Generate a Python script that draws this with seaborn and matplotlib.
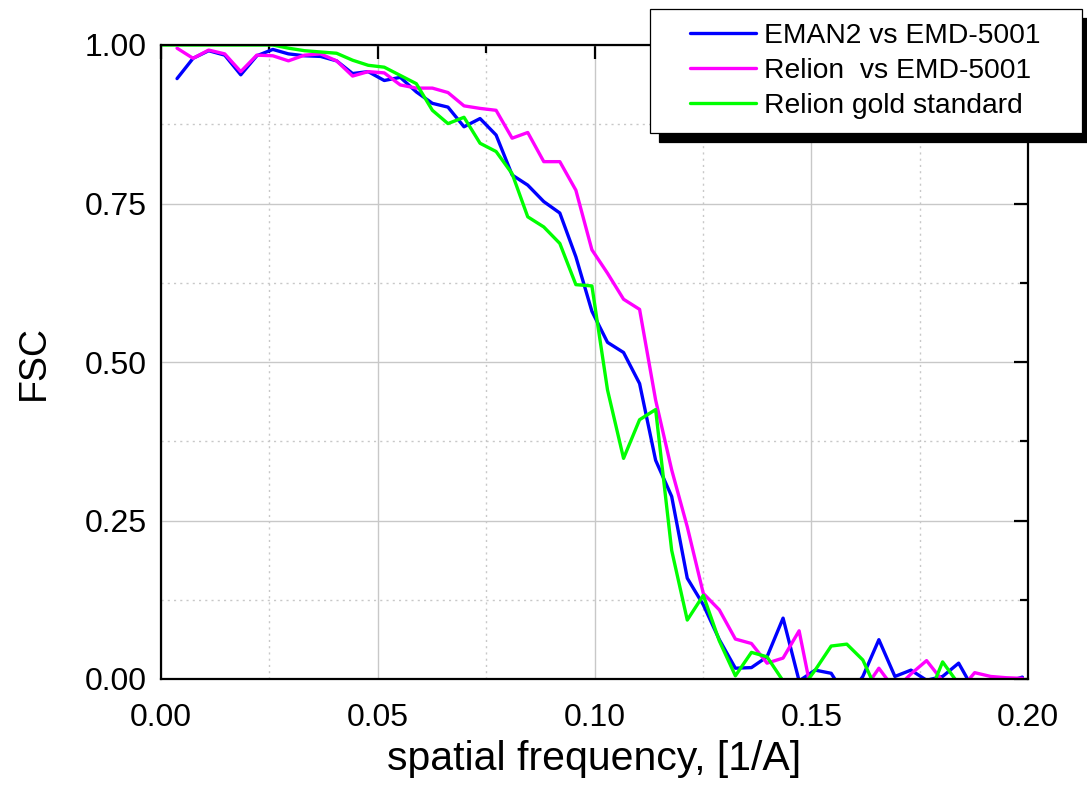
import numpy as np
import pandas as pd
import matplotlib
matplotlib.use("Agg")
import matplotlib.pyplot as plt
from matplotlib.lines import Line2D
from matplotlib.legend_handler import HandlerLine2D
from matplotlib.ticker import MultipleLocator, FormatStrFormatter
import seaborn as sns

# Fourier shell correlation curves
freq = [0.0000, 0.0037, 0.0074, 0.0110, 0.0147, 0.0184, 0.0221, 0.0258, 0.0294, 0.0331,
        0.0368, 0.0405, 0.0442, 0.0478, 0.0515, 0.0552, 0.0589, 0.0626, 0.0662, 0.0699,
        0.0736, 0.0773, 0.0810, 0.0846, 0.0883, 0.0920, 0.0957, 0.0994, 0.1030, 0.1067,
        0.1104, 0.1141, 0.1178, 0.1214, 0.1251, 0.1288, 0.1325, 0.1362, 0.1398, 0.1435,
        0.1472, 0.1509, 0.1546, 0.1582, 0.1619, 0.1656, 0.1693, 0.1730, 0.1766, 0.1803,
        0.1840, 0.1877, 0.1914, 0.1950, 0.1987]

fsc_eman2 = [np.nan, 0.947, 0.979, 0.991, 0.984, 0.953, 0.983, 0.993, 0.986, 0.983,
             0.982, 0.975, 0.955, 0.958, 0.944, 0.949, 0.926, 0.908, 0.902, 0.871,
             0.884, 0.858, 0.795, 0.779, 0.753, 0.735, 0.666, 0.580, 0.531, 0.515,
             0.466, 0.345, 0.288, 0.159, 0.117, 0.062, 0.017, 0.018, 0.035, 0.096,
             -0.003, 0.014, 0.009, -0.030, 0.004, 0.062, 0.004, 0.014, -0.002, 0.004,
             0.025, -0.020, -0.015, -0.005, 0.003]

fsc_relion = [np.nan, 0.995, 0.979, 0.992, 0.986, 0.958, 0.984, 0.983, 0.975, 0.984,
              0.986, 0.975, 0.951, 0.958, 0.956, 0.937, 0.932, 0.932, 0.925, 0.904,
              0.900, 0.897, 0.853, 0.862, 0.816, 0.816, 0.771, 0.677, 0.640, 0.599,
              0.583, 0.440, 0.330, 0.240, 0.135, 0.109, 0.063, 0.056, 0.025, 0.033,
              0.076, -0.050, -0.030, -0.030, -0.020, 0.017, -0.017, 0.008, 0.029, -0.003,
              -0.020, 0.010, 0.004, 0.002, 0.001]

fsc_gold = [1.000, 1.000, 1.000, 1.000, 1.000, 1.000, 1.000, 1.000, 0.995, 0.991,
            0.989, 0.987, 0.976, 0.968, 0.965, 0.952, 0.939, 0.897, 0.876, 0.886,
            0.845, 0.832, 0.797, 0.729, 0.713, 0.687, 0.622, 0.620, 0.456, 0.348,
            0.409, 0.425, 0.203, 0.093, 0.132, 0.060, 0.005, 0.042, 0.035, -0.003,
            -0.020, 0.014, 0.052, 0.055, 0.030, -0.025, -0.030, -0.020, -0.035, 0.027,
            -0.008, -0.020, -0.020, -0.020, -0.020]

series_names = ["EMAN2 vs EMD-5001", "Relion  vs EMD-5001", "Relion gold standard"]
series_colors = ["#0000ff", "#ff00ff", "#00ff00"]

x_ticks = [0.00, 0.05, 0.10, 0.15, 0.20]
y_ticks = [0.00, 0.25, 0.50, 0.75, 1.00]

df = pd.DataFrame({
    "freq": freq * 3,
    "fsc": fsc_eman2 + fsc_relion + fsc_gold,
    "series": [series_names[0]] * len(freq) + [series_names[1]] * len(freq)
              + [series_names[2]] * len(freq),
}).dropna()

sns.set_theme(style="white")
plt.rcParams["font.family"] = ["Liberation Sans", "DejaVu Sans"]
plt.rcParams.update({"text.color": "black", "axes.labelcolor": "black",
                     "xtick.color": "black", "ytick.color": "black"})

fig, ax = plt.subplots(figsize=(10.87, 7.90), dpi=100)
fig.subplots_adjust(left=161 / 1087, right=1028 / 1087, top=1 - 45 / 790, bottom=1 - 679 / 790)

sns.lineplot(data=df, x="freq", y="fsc", hue="series", hue_order=series_names,
             palette=dict(zip(series_names, series_colors)), sort=False,
             estimator=None, linewidth=2.4, ax=ax)

ax.set_xlim(x_ticks[0], x_ticks[-1])
ax.set_ylim(y_ticks[0], y_ticks[-1])
ax.set_xticks(x_ticks)
ax.set_yticks(y_ticks)
ax.xaxis.set_minor_locator(MultipleLocator(0.025))
ax.yaxis.set_minor_locator(MultipleLocator(0.125))
ax.xaxis.set_major_formatter(FormatStrFormatter("%.2f"))
ax.yaxis.set_major_formatter(FormatStrFormatter("%.2f"))

ax.set_axisbelow(True)
ax.grid(which="major", color="#c8c8c8", linewidth=1.0, linestyle="-")
ax.grid(which="minor", color="#c8c8c8", linewidth=1.0, linestyle=(0, (1.5, 3)))

ax.tick_params(which="both", direction="in", top=True, right=True, width=1.6,
               color="black", labelcolor="black", labelsize=23)
ax.tick_params(which="major", length=10)
ax.tick_params(which="minor", length=6)
ax.tick_params(axis="x", which="major", pad=17)
ax.tick_params(axis="y", which="major", pad=10)
for sp in ax.spines.values():
    sp.set_color("black")
    sp.set_linewidth(1.6)

ax.set_xlabel("spatial frequency, [1/A]", fontsize=29.5, labelpad=5, color="black")
ax.set_ylabel("FSC", fontsize=27, labelpad=24, color="black")

old = ax.get_legend()
handles = old.legend_handles
labels = [t.get_text() for t in old.get_texts()]
old.remove()
for h in handles:
    h.set_linewidth(2.4)

leg = ax.legend(handles, labels, loc="upper left",
                bbox_to_anchor=(650 / 1087, 1 - 131 / 790, 432 / 1087, 122 / 790),
                bbox_transform=fig.transFigure, mode="expand", borderaxespad=0,
                frameon=True, fancybox=False, framealpha=1, edgecolor="black",
                shadow={"ox": 6.5, "oy": -6.5, "color": "black", "alpha": 1},
                fontsize=20.3, handlelength=3.27, handletextpad=0.28,
                labelspacing=0.32, borderpad=0.5,
                handler_map={Line2D: HandlerLine2D(xpad=0.92)})
leg.get_frame().set_linewidth(0.9)
for t in leg.get_texts():
    t.set_color("black")

fig.savefig("out.png", dpi=100)
